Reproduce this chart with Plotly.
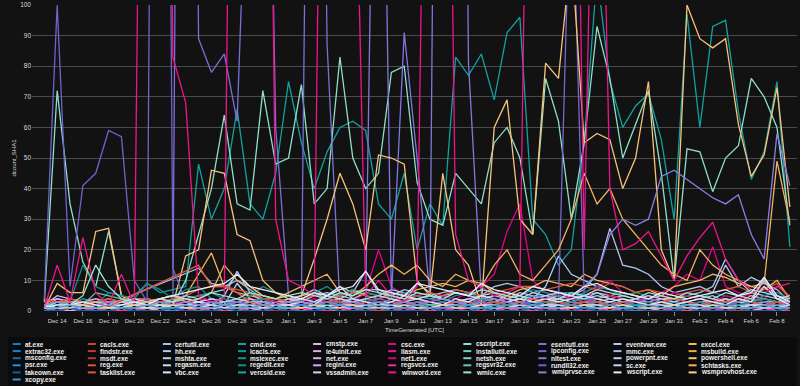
import pandas as pd
import plotly.graph_objects as go

dates = pd.date_range("2023-12-13", periods=59, freq="D")

at_exe = [2,2,1,2,2,1,2,1,2,2, 1,2,2,1,2,2,1,2,2,1, 2,1,2,2,1,2,2,3,2,2, 2,1,2,2,3,2,3,4,5,5, 6,6,5,3,2,2,1,2,2,1, 2,2,3,2,2,1,2,2,1]
cacls_exe = [3,3,2,3,2,2,3,2,3,2, 3,3,4,3,2,3,3,2,3,3, 2,3,3,4,3,2,3,3,2,3, 3,2,3,3,4,3,3,2,3,3, 3,4,3,3,2,3,3,2,3,3, 2,3,3,2,3,2,3,3,2]
certutil_exe = [1,4,3,3,2,2,None,None,None,None, None,None,14,9,8,10,7,4,3,2, 3,2,4,3,4,3,2,4,3,2, 3,2,3,4,3,2,3,4,3,2, 4,3,4,6,5,4,3,3,2,3, 2,3,3,2,3,2,3,3,2]
cmd_exe = [2,3,2,4,3,2,3,5,9,6, 7,8,48,30,40,66,35,30,45,75, 55,40,52,60,62,59,35,30,45,20, 35,28,83,77,84,69,91,96,30,25, 15,20,55,110,75,60,67,71,56,30, 97,60,93,95,65,43,52,75,21]
cmstp_exe = [2,5,4,3,3,2,2,2,2,1, 2,2,2,3,2,2,1,2,2,2, 3,2,2,2,3,2,2,2,3,2, 2,3,2,2,2,3,2,2,2,3, 2,2,3,2,2,2,3,2,2,2, 3,2,2,2,3,2,2,2,3]
csc_exe = [1,2,3,2,1,2,3,2,3,2, 3,2,4,3,2,3,4,3,2,3, 4,3,5,4,3,6,20,8,5,4, 3,5,4,6,8,12,26,35,10,6, 5,4,6,8,10,6,5,4,6,8, 12,10,21,8,6,5,4,8,5]
cscript_exe = [3,72,35,16,8,26,5,3,2,3, 2,10,25,40,64,35,33,72,48,50, 74,35,40,83,50,40,45,78,80,42, 30,28,45,40,35,55,60,50,25,76, 62,30,55,93,76,50,61,72,45,10, 53,52,39,50,54,76,70,60,28]
esentutl_exe = [1,2,1,2,1,2,1,2,1,2, 3,600,89,78,84,62,300,300,60,5, 3,400,87,2,3,2,3,2,3,2, 2,3,2,3,2,3,2,3,2,3, 2,3,2,3,2,3,2,3,2,3, 2,3,2,3,2,3,2,3,2]
eventvwr_exe = [1,3,2,2,1,2,3,2,3,4, 3,4,5,6,7,12,8,5,4,3, 5,7,5,8,6,13,6,5,7,6, 5,6,7,6,5,8,9,8,6,7, 6,5,7,12,27,15,14,12,8,6, 7,8,6,15,8,11,9,7,3]
excel_exe = [1,2,3,2,3,4,3,2,3,2, 4,5,12,19,8,6,5,4,3,4, 5,6,4,5,7,5,4,6,5,7, 8,9,8,10,9,6,5,7,8,10, 9,8,12,10,9,8,6,7,5,8, 9,10,12,11,9,8,7,10,4]
extrac32_exe = [1,1,1,1,0,1,1,1,0,1, 1,1,0,1,1,1,1,0,1,1, 1,0,1,1,1,1,0,1,1,1, 0,1,1,1,1,0,1,1,1,1, 0,1,1,1,0,1,1,1,1,0, 1,1,1,0,1,1,1,0,1]
findstr_exe = [2,2,2,1,2,2,1,2,2,2, 2,2,2,2,1,2,2,2,2,2, 1,2,2,2,2,2,2,1,2,2, 2,2,2,2,2,1,2,2,2,2, 2,2,1,2,2,2,2,2,2,1, 2,2,2,2,2,1,2,2,2]
hh_exe = [2,3,2,2,3,2,2,2,3,4, 5,4,3,2,5,13,6,3,2,4, 3,5,6,5,4,6,5,7,6,5, 4,5,6,5,4,5,6,5,4,8, 18,12,10,8,7,6,5,4,5,4, 5,6,8,17,10,6,5,4,3]
icacls_exe = [1,1,2,1,1,2,1,1,1,2, 1,1,2,1,1,1,2,1,1,1, 2,1,1,2,1,1,1,2,1,1, 2,1,1,1,2,1,1,2,1,1, 1,2,1,1,1,2,1,1,2,1, 1,1,2,1,1,2,1,1,1]
ie4uinit_exe = [1,0,1,0,0,1,0,1,0,0, 1,0,0,1,0,1,0,0,1,0, 0,1,0,1,0,0,1,0,0,1, 0,1,0,0,1,0,1,0,0,1, 0,0,1,0,1,0,0,1,0,0, 1,0,1,0,0,1,0,0,1]
ilasm_exe = [0,0,0,1,0,0,0,0,1,0, 0,0,0,1,0,0,0,0,1,0, 0,0,0,0,1,0,0,0,0,1, 0,0,0,0,1,0,0,0,0,1, 0,0,0,0,1,0,0,0,0,1, 0,0,0,0,1,0,0,0,0]
installutil_exe = [1,2,1,1,2,1,1,1,2,1, 1,2,1,1,1,2,1,1,2,1, 1,1,2,1,1,2,1,1,1,2, 1,1,2,1,1,1,2,1,1,2, 1,1,1,2,1,1,2,1,1,1, 2,1,1,2,1,1,1,2,1]
ipconfig_exe = [1,2,1,1,2,1,1,2,1,1, 2,1,1,2,1,1,2,1,1,2, 1,1,2,1,1,2,1,1,2,1, 1,2,1,1,2,1,1,2,1,3, 3,154,5,3,2,3,2,3,2,3, 2,3,2,3,2,3,2,3,2]
mmc_exe = [1,2,1,2,1,2,2,1,2,1, 2,1,2,3,2,1,2,1,2,1, 2,1,2,1,3,2,1,2,1,2, 1,2,1,2,1,2,3,2,1,2, 1,2,1,2,1,3,2,1,2,1, 2,1,2,1,2,1,3,2,1]
msbuild_exe = [1,1,2,1,2,1,2,2,1,2, 1,2,3,2,3,2,3,4,3,2, 3,2,3,4,3,2,3,2,3,4, 3,2,3,2,4,3,5,4,3,4, 5,4,3,4,5,6,5,4,3,4, 5,4,3,4,3,5,4,3,2]
msconfig_exe = [0,1,0,0,1,0,0,1,0,0, 1,0,0,1,0,0,1,0,0,1, 0,0,1,0,0,1,0,0,1,0, 0,1,0,0,1,0,0,1,0,0, 1,0,0,1,0,0,1,0,0,1, 0,0,1,0,0,1,0,0,1]
msdt_exe = [0,1,0,0,0,1,0,0,1,0, 0,0,1,0,0,0,1,0,0,0, 1,0,0,1,0,0,0,1,0,0, 1,0,0,0,1,0,0,1,0,0, 0,1,0,0,1,0,0,0,1,0, 0,1,0,0,0,1,0,0,1]
mshta_exe = [1,2,1,2,2,1,2,1,2,2, 1,2,2,3,2,9,4,2,3,2, 2,3,2,3,3,4,3,2,3,9, 6,4,3,3,2,3,4,5,3,3, 4,3,5,6,4,3,3,4,3,2, 3,2,3,4,3,3,11,4,2]
msiexec_exe = [1,2,3,15,8,6,5,2,3,2, 3,4,5,6,4,3,5,8,6,5, 4,6,8,5,7,6,5,4,6,5, 4,3,5,6,4,5,6,5,7,6, 5,4,6,8,7,5,6,5,4,3, 5,4,6,5,4,3,5,6,4]
net_exe = [3,4,3,3,4,3,3,3,4,3, 3,4,3,4,3,3,4,3,3,3, 4,3,5,4,6,7,7,5,4,4, 5,4,6,5,4,5,4,6,5,4, 4,5,4,3,4,5,4,3,4,4, 3,4,5,3,4,3,4,3,3]
net1_exe = [2,1,2,3,2,1,2,3,2,1, 2,3,2,1,2,3,2,4,3,2, 3,4,3,2,3,4,3,2,3,4, 3,2,3,4,3,2,4,3,2,5, 6,4,3,8,5,4,3,5,4,6, 5,4,3,5,4,6,8,5,3]
netsh_exe = [2,2,3,2,2,3,2,2,3,2, 2,3,2,2,3,2,2,3,2,2, 3,2,2,3,2,2,3,2,2,3, 2,2,3,2,2,3,2,2,3,2, 2,3,2,2,3,2,2,3,2,2, 3,2,2,3,2,2,3,2,2]
nltest_exe = [1,1,2,1,1,2,1,1,2,1, 1,2,1,1,2,1,1,2,1,1, 2,1,1,2,1,3,280,4,91,50, 5,500,500,81,5,3,2,3,2,3, 2,3,2,3,2,3,2,3,2,3, 2,3,2,3,2,3,2,3,2]
powerpnt_exe = [0,1,0,1,0,0,1,0,1,0, 0,1,0,1,0,0,1,0,1,0, 0,1,0,0,1,0,1,0,0,1, 0,1,0,0,1,0,1,0,0,1, 0,1,0,0,1,0,1,0,0,1, 0,1,0,0,1,0,1,0,0]
powershell_exe = [1,9,6,6,26,27,5,3,3,2, 2,18,20,46,45,25,23,10,6,4, 5,17,30,45,35,20,51,50,48,10, 5,45,20,15,2,60,69,30,25,81, 76,118,55,58,56,40,50,75,20,10, 100,89,86,89,61,44,51,73,34]
psr_exe = [1,0,1,1,0,1,1,0,1,1, 0,1,1,0,1,1,0,1,1,0, 1,1,0,1,1,0,1,1,0,1, 1,0,1,1,0,1,1,0,1,1, 0,1,1,0,1,1,0,1,1,0, 1,1,0,1,1,0,1,1,0]
reg_exe = [4,3,4,3,3,4,3,4,4,3, 4,5,7,8,8,7,6,4,4,3, 4,5,4,5,6,5,4,5,4,5, 6,5,7,6,5,6,7,8,8,7, 8,9,8,7,9,8,6,7,6,5, 6,7,6,7,8,6,7,9,4]
regasm_exe = [1,1,1,2,1,1,1,2,1,1, 2,1,1,2,1,1,2,1,1,2, 1,1,2,1,1,2,1,1,2,1, 1,2,1,1,2,1,1,2,1,1, 2,1,1,2,1,1,2,1,1,2, 1,1,2,1,1,2,1,1,2]
regedit_exe = [2,2,3,2,2,6,5,4,9,7, 4,7,8,4,3,2,3,4,2,3, 2,3,2,3,2,4,3,2,3,2, 3,2,3,2,4,3,2,3,2,3, 2,3,4,3,2,3,2,3,2,3, 2,3,2,3,2,3,4,3,2]
regini_exe = [1,1,0,1,1,1,0,1,1,0, 1,1,1,0,1,1,0,1,1,1, 0,1,1,0,1,1,1,0,1,1, 0,1,1,1,0,1,1,0,1,1, 1,0,1,1,0,1,1,1,0,1, 1,0,1,1,1,0,1,1,0]
regsvcs_exe = [0,0,1,0,1,0,0,1,0,0, 1,0,1,0,0,1,0,0,1,0, 1,0,0,1,0,1,0,0,1,0, 0,1,0,1,0,0,1,0,0,1, 0,1,0,0,1,0,1,0,0,1, 0,0,1,0,1,0,0,1,0]
regsvr32_exe = [1,2,1,2,6,5,4,2,1,2, 1,2,3,2,1,2,3,2,1,2, 3,2,1,2,3,2,1,2,3,2, 1,2,3,2,1,2,3,2,1,2, 3,2,1,2,3,2,1,2,3,2, 1,2,3,2,1,2,3,2,1]
rundll32_exe = [4,100,8,41,45,59,57,10,3,600, 14,3,2,3,2,3,2,3,2,3, 2,3,4,3,2,3,4,3,2,3, 3,2,3,4,3,2,3,2,3,4, 3,2,3,4,3,2,3,4,3,2, 3,2,3,2,3,4,3,2,3]
sc_exe = [2,3,3,2,3,2,3,4,3,4, 5,4,3,4,3,4,3,3,2,3, 4,3,5,4,3,4,5,4,3,4, 5,4,3,4,5,6,4,3,4,5, 6,5,4,5,4,3,4,5,4,3, 4,5,4,3,5,4,10,4,5]
schtasks_exe = [2,3,2,2,3,3,2,2,3,4, 5,3,4,6,15,10,8,5,4,6, 8,10,12,6,5,8,12,15,12,15, 10,8,12,10,8,15,20,12,10,15, 20,30,45,35,40,30,25,20,15,12, 10,20,15,12,10,8,9,49,29]
takeown_exe = [0,0,1,0,0,0,1,0,0,0, 1,0,0,0,1,0,0,0,1,0, 0,0,1,0,0,0,1,0,0,0, 1,0,0,0,1,0,0,0,1,0, 0,0,1,0,0,0,1,0,0,0, 1,0,0,0,1,0,0,0,1]
tasklist_exe = [3,3,3,2,2,1.5,None,None,None,None, None,None,15,8,8,6,3,2,2,2, 3,2,3,3,2,3,2,3,3,2, 3,2,3,3,2,3,2,3,4,3, 3,2,3,3,2,3,3,2,3,4, 3,2,3,3,4,3,2,3,2]
vbc_exe = [1,1,2,1,1,1,2,1,1,2, 1,2,3,2,1,1,2,3,2,2, 3,2,5,8,4,3,2,3,5,4, 3,2,4,3,5,4,3,4,3,4, 3,4,5,4,3,4,3,2,3,2, 3,4,3,2,4,3,8,4,2]
vercsid_exe = [1,2,1,2,1,1,2,1,2,1, 1,2,1,2,1,1,2,1,2,1, 1,2,1,2,1,1,2,1,2,1, 1,2,1,2,1,1,2,1,2,1, 1,2,1,2,1,1,2,1,2,1, 1,2,1,2,1,1,2,1,2]
vssadmin_exe = [2,1,2,2,1,2,1,2,2,1, 2,2,1,2,1,2,2,1,2,2, 1,2,1,2,2,1,2,2,1,2, 1,2,2,1,2,2,1,2,1,2, 2,1,2,2,1,2,1,2,2,1, 2,2,1,2,1,2,2,1,2]
winword_exe = [1,15,3,24,6,2,12,2,400,500, 83,68,5,3,4,400,450,380,30,10, 8,5,350,400,200,5,10,5,3,8, 300,350,25,10,8,5,6,8,300,350, 380,300,20,240,40,20,22,26,18,10, 18,24,29,17,10,7,6,8,9]
wmic_exe = [1,3,2,5,15,8,4,3,2,4, 3,5,4,6,5,4,6,5,4,5, 6,5,4,6,5,7,6,5,4,6, 5,4,6,5,7,6,5,4,6,5, 4,6,5,7,6,5,4,6,5,4, 6,5,4,6,5,7,6,5,4]
wmiprvse_exe = [2,3,2,3,2,3,2,3,2,3, 2,3,2,3,2,3,2,3,2,3, 3,2,3,2,3,2,3,2,3,2, 3,4,3,2,3,4,3,2,5,4, 6,5,8,12,25,30,28,30,44,46, 43,40,37,35,38,25,17,58,41]
wscript_exe = [1,2,2,3,2,1,2,3,2,4, 5,6,7,8,9,12,8,7,6,5, 4,6,5,7,8,13,7,6,5,9, 8,7,6,5,9,7,6,5,8,7, 6,5,8,9,7,6,5,4,6,5, 4,5,6,7,5,6,11,5,3]
wsmprovhost_exe = [1,1,1,2,1,1,1,2,1,1, 2,1,1,1,2,1,1,2,1,1, 1,2,1,1,2,1,1,1,2,1, 1,2,1,1,1,2,1,1,2,1, 1,1,2,1,1,2,1,1,1,2, 1,1,2,1,1,1,2,1,1]
xcopy_exe = [1,1,2,1,1,2,1,1,2,1, 1,2,1,1,2,1,1,2,1,1, 2,1,1,2,1,1,2,1,1,2, 1,1,2,1,1,2,1,1,2,1, 1,2,1,1,2,1,1,2,1,1, 2,1,1,2,1,1,2,1,1]

series = [
    ("at.exe", at_exe, "#0f7fd6"), ("cacls.exe", cacls_exe, "#d0412f"),
    ("certutil.exe", certutil_exe, "#9ec5f5"), ("cmd.exe", cmd_exe, "#12a0a0"),
    ("cmstp.exe", cmstp_exe, "#e4b0ee"), ("csc.exe", csc_exe, "#e3008c"),
    ("cscript.exe", cscript_exe, "#8fe0c8"), ("esentutl.exe", esentutl_exe, "#7b6fd8"),
    ("eventvwr.exe", eventvwr_exe, "#b4c4f4"), ("excel.exe", excel_exe, "#f5b55a"),
    ("extrac32.exe", extrac32_exe, "#1183dc"), ("findstr.exe", findstr_exe, "#c83a2c"),
    ("hh.exe", hh_exe, "#aecdf2"), ("icacls.exe", icacls_exe, "#0b9a9a"),
    ("ie4uinit.exe", ie4uinit_exe, "#dcaaf0"), ("ilasm.exe", ilasm_exe, "#e8168e"),
    ("installutil.exe", installutil_exe, "#6ed0b6"), ("ipconfig.exe", ipconfig_exe, "#7468d2"),
    ("mmc.exe", mmc_exe, "#a9b9ee"), ("msbuild.exe", msbuild_exe, "#f0a94a"),
    ("msconfig.exe", msconfig_exe, "#0a6fc2"), ("msdt.exe", msdt_exe, "#b93a2b"),
    ("mshta.exe", mshta_exe, "#b8d4f7"), ("msiexec.exe", msiexec_exe, "#159090"),
    ("net.exe", net_exe, "#e0b0e8"), ("net1.exe", net1_exe, "#d4007f"),
    ("netsh.exe", netsh_exe, "#78d6bd"), ("nltest.exe", nltest_exe, "#8177dd"),
    ("powerpnt.exe", powerpnt_exe, "#c0cdf6"), ("powershell.exe", powershell_exe, "#f9c27c"),
    ("psr.exe", psr_exe, "#2a8be0"), ("reg.exe", reg_exe, "#d9573a"),
    ("regasm.exe", regasm_exe, "#c9def9"), ("regedit.exe", regedit_exe, "#1d8a8a"),
    ("regini.exe", regini_exe, "#d8a8f0"), ("regsvcs.exe", regsvcs_exe, "#ec2f96"),
    ("regsvr32.exe", regsvr32_exe, "#68c9ae"), ("rundll32.exe", rundll32_exe, "#6f63cc"),
    ("sc.exe", sc_exe, "#c8d2f7"), ("schtasks.exe", schtasks_exe, "#f2b060"),
    ("takeown.exe", takeown_exe, "#0063b1"), ("tasklist.exe", tasklist_exe, "#e8543a"),
    ("vbc.exe", vbc_exe, "#dde9fb"), ("vercsid.exe", vercsid_exe, "#12aaaa"),
    ("vssadmin.exe", vssadmin_exe, "#f0c8f8"), ("winword.exe", winword_exe, "#f0148c"),
    ("wmic.exe", wmic_exe, "#9be8d2"), ("wmiprvse.exe", wmiprvse_exe, "#8a80e4"),
    ("wscript.exe", wscript_exe, "#e8ecfc"), ("wsmprovhost.exe", wsmprovhost_exe, "#ffd08a"),
    ("xcopy.exe", xcopy_exe, "#3a96dd"),
]

for name, vals, _ in series:
    if len(vals) != len(dates):
        raise ValueError(f"{name} has {len(vals)} values")

# plot area in pixels (for paper coordinate conversions)
L, R, T, B = 32, 797, 5, 311
PW, PH = R - L, B - T


def px(x):
    return (x - L) / PW


def py(y):
    return (B - y) / PH


fig = go.Figure()
for name, vals, color in series:
    fig.add_trace(go.Scatter(
        x=dates, y=vals, name=name, mode="lines",
        line=dict(color=color, width=1.3),
        connectgaps=True,
    ))

shapes = [dict(type="rect", xref="paper", yref="paper",
               x0=px(8), x1=px(797), y0=py(337), y1=py(386),
               fillcolor="#0b0b0b", line=dict(width=0), layer="below")]
annotations = []
for k, (name, vals, color) in enumerate(series):
    row, col = divmod(k, 10)
    sx = 12.7 + 75.1 * col
    sy = 344 + 7.1 * row
    shapes.append(dict(type="line", xref="paper", yref="paper",
                       x0=px(sx), x1=px(sx + 8), y0=py(sy), y1=py(sy),
                       line=dict(color=color, width=2)))
    annotations.append(dict(xref="paper", yref="paper", x=px(sx + 10.5), y=py(sy),
                            xanchor="left", yanchor="middle", showarrow=False,
                            text=f"<b>{name}</b>",
                            font=dict(size=6.5, color="#f2f2f2")))

fig.update_layout(
    width=800, height=386,
    margin=dict(l=L, r=800 - R, t=T, b=386 - B),
    paper_bgcolor="#121212", plot_bgcolor="#121212",
    font=dict(family="Liberation Sans, Arial, sans-serif", size=6, color="#d8d8d8"),
    showlegend=False,
    shapes=shapes, annotations=annotations,
    xaxis=dict(
        type="date",
        range=["2023-12-12 01:00", "2024-02-09 13:23"],
        tick0="2023-12-14", dtick=2 * 86400000, tickformat="%b %-d",
        showgrid=False, zeroline=False, showline=False,
        ticks="outside", ticklen=4, tickcolor="#8a8a8a", tickwidth=1,
        tickfont=dict(size=6, color="#d8d8d8"),
        title=dict(text="TimeGenerated [UTC]", font=dict(size=6, color="#d8d8d8"), standoff=4),
        automargin=False,
    ),
    yaxis=dict(
        range=[0, 100], dtick=10,
        showgrid=True, gridcolor="#4a4a4a", gridwidth=1,
        zeroline=False, showline=False,
        tickfont=dict(size=6.5, color="#d8d8d8"),
        title=dict(text="dcount_SHA1", font=dict(size=6, color="#d8d8d8"), standoff=3),
        automargin=False,
    ),
)

fig.write_html(
    "out.html",
    config={"displayModeBar": False},
    post_script="document.body.style.margin='0';document.body.style.background='#121212';document.body.style.overflow='hidden';",
)
